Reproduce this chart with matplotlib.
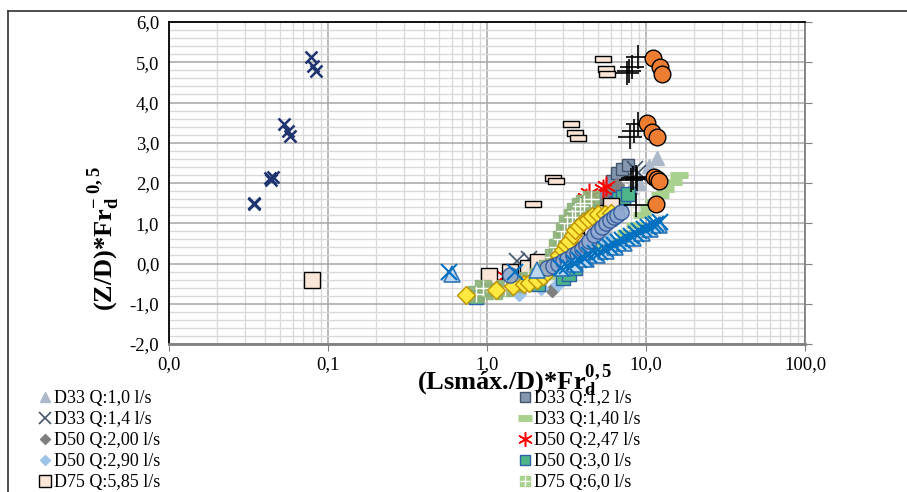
import matplotlib
matplotlib.use("Agg")
import matplotlib.pyplot as plt
from matplotlib.ticker import FuncFormatter, LogLocator, MultipleLocator
from matplotlib.lines import Line2D
from matplotlib.path import Path

plt.rcParams['font.family'] = ['Liberation Serif', 'DejaVu Serif']
plt.rcParams['mathtext.fontset'] = 'custom'
plt.rcParams['mathtext.rm'] = 'Liberation Serif'
plt.rcParams['mathtext.bf'] = 'Liberation Serif:bold'
plt.rcParams['mathtext.it'] = 'Liberation Serif:italic'

# ---------------- data ----------------
d33_q10_x = [1.45, 2.0, 2.9, 4.0, 5.5, 7.0, 8.0, 9.1, 10.4, 11.8]
d33_q10_y = [-0.25, -0.1, -0.05, 0.3, 0.9, 1.5, 1.9, 2.0, 2.43, 2.63]

d33_q12_x = [1.4, 2.2, 5.5, 6.1, 6.6, 7.1, 7.7]
d33_q12_y = [-0.3, -0.3, 1.7, 2.05, 2.25, 2.35, 2.45]

d33_q14_x = [1.55, 1.85, 8.5, 8.9]
d33_q14_y = [0.05, 0.1, 2.35, 2.25]

d33_q140_x = [2.5, 3.5, 4.5, 5.5, 6.5, 7.5, 8.5, 9.5, 10.4, 11.2, 12.3, 13.1, 14.7, 16.2]
d33_q140_y = [-0.3, 0.0, 0.2, 0.4, 0.55, 0.75, 0.95, 1.2, 1.37, 1.54, 1.71, 1.86, 2.03, 2.21]

d50_q200_x = [2.55, 3.2, 3.7, 4.2, 4.7, 5.2, 5.7, 6.2, 6.6]
d50_q200_y = [-0.67, -0.3, 0.2, 0.7, 1.1, 1.4, 1.6, 1.8, 1.95]

d50_q247_x = [1.3, 4.2, 4.4, 5.4, 5.6]
d50_q247_y = [-0.3, 1.62, 1.75, 1.85, 1.92]

d50_q290_x = [1.6, 2.2, 2.8, 3.3, 4.5, 5.5, 6.5, 7.5]
d50_q290_y = [-0.75, -0.6, -0.5, -0.3, 0.2, 0.6, 1.1, 1.6]

d50_q30_x = [0.85, 2.1, 3.0, 3.3, 3.6, 6.2, 6.5, 6.8, 7.2, 7.7]
d50_q30_y = [-0.82, -0.5, -0.35, -0.25, -0.1, 1.45, 1.5, 1.6, 1.65, 1.72]

d75_q585_x = [0.079, 1.03, 1.39, 1.81, 2.1, 4.0, 4.6, 5.3, 6.0]
d75_q585_y = [-0.42, -0.32, -0.22, -0.1, 0.03, 0.57, 0.9, 1.25, 1.44]

d75_q60_x = [0.85, 0.95, 1.1, 1.3, 1.55, 1.8, 2.1, 2.4, 2.6, 2.75, 2.9, 3.05,
             3.2, 3.4, 3.6, 3.85, 4.1, 4.5]
d75_q60_y = [-0.75, -0.62, -0.68, -0.6, -0.5, -0.42, -0.3, -0.1, 0.15, 0.4, 0.6, 0.8,
             1.0, 1.15, 1.3, 1.42, 1.5, 1.6]

# series whose legend entries are cut off in the picture
yellow_x = [0.74, 1.14, 1.45, 1.7, 1.85, 2.05, 2.25, 2.4, 2.55, 2.7, 2.85, 3.0, 3.15,
            3.3, 3.45, 3.6, 3.8, 4.0, 4.3, 4.6, 5.0, 5.5, 6.0]
yellow_y = [-0.79, -0.67, -0.57, -0.52, -0.48, -0.42, -0.3, -0.2, -0.05, 0.07, 0.2, 0.33,
            0.45, 0.57, 0.7, 0.82, 0.92, 1.02, 1.1, 1.19, 1.22, 1.22, 1.25]

bluecirc_x = [1.39, 2.4, 2.6, 2.8, 3.0, 3.2, 3.45, 3.7, 3.95, 4.2, 4.4, 4.7, 5.0, 5.3,
              5.6, 5.9, 6.3, 6.6, 7.0]
bluecirc_y = [-0.28, -0.1, -0.05, 0.0, 0.07, 0.12, 0.2, 0.27, 0.37, 0.47, 0.57, 0.7, 0.8,
              0.9, 1.0, 1.07, 1.15, 1.2, 1.27]

bluetri_x = [0.6, 2.05, 3.0, 3.6, 4.2, 4.9, 5.6, 6.4, 7.3, 8.3, 9.4, 10.6, 12.0]
bluetri_y = [-0.25, -0.17, -0.1, 0.0, 0.1, 0.2, 0.3, 0.42, 0.52, 0.64, 0.75, 0.85, 0.95]

bluex_x = [0.58, 1.5, 2.9, 3.2, 3.5, 3.8, 4.1, 4.4, 4.8, 5.1, 5.5, 5.9, 6.3, 6.7, 7.1,
           7.6, 8.1, 8.6, 9.1, 9.7, 10.3, 11.0, 11.6, 12.3]
bluex_y = [-0.22, -0.22, -0.12, -0.05, 0.02, 0.08, 0.14, 0.2, 0.25, 0.28, 0.35, 0.42,
           0.47, 0.53, 0.58, 0.63, 0.68, 0.74, 0.8, 0.86, 0.9, 0.95, 0.98, 1.02]

navyx_x = [0.034, 0.034, 0.043, 0.044, 0.045, 0.053, 0.056, 0.058, 0.078, 0.081, 0.084]
navyx_y = [1.48, 1.5, 2.12, 2.08, 2.15, 3.47, 3.3, 3.18, 5.12, 4.9, 4.78]

flat_x = [5.34, 5.6, 5.7, 3.36, 3.6, 3.75, 2.6, 2.7, 1.94]
flat_y = [5.09, 4.84, 4.71, 3.47, 3.25, 3.13, 2.13, 2.06, 1.49]

plus_x = [8.9, 8.2, 7.8, 7.6, 8.9, 8.4, 7.9, 8.0, 8.3, 8.6, 8.8, 8.7]
plus_y = [5.12, 4.87, 4.79, 4.74, 3.47, 3.28, 3.14, 2.07, 2.12, 2.15, 2.1, 1.45]

orange_x = [11.1, 12.2, 12.6, 10.1, 10.9, 11.8, 11.3, 11.7, 12.1, 11.5]
orange_y = [5.1, 4.87, 4.72, 3.48, 3.26, 3.15, 2.15, 2.1, 2.05, 1.48]

x_ticks = [0.01, 0.1, 1, 10, 100]
y_ticks = [-2, -1, 0, 1, 2, 3, 4, 5, 6]

# ---------------- figure ----------------
W, H = 907, 492
fig = plt.figure(figsize=(W / 100, H / 100), dpi=100)
ax = fig.add_axes([169 / W, 1 - 344 / H, (805 - 169) / W, (344 - 22) / H])

ax.set_xscale('log')
ax.set_xlim(0.01, 100)
ax.set_ylim(-2, 6)
ax.set_xticks(x_ticks)
ax.set_yticks(y_ticks)
ax.xaxis.set_minor_locator(LogLocator(base=10, subs=range(2, 10)))
ax.yaxis.set_minor_locator(MultipleLocator(0.2))
fmt = FuncFormatter(lambda v, p: f"{v:.1f}".replace('.', ','))
ax.xaxis.set_major_formatter(fmt)
ax.yaxis.set_major_formatter(fmt)
ax.xaxis.set_minor_formatter(FuncFormatter(lambda v, p: ''))

ax.grid(True, which='major', color='#a6a6a6', linewidth=1.1, zorder=0)
ax.grid(True, which='minor', color='#d9d9d9', linewidth=1.0, zorder=0)
ax.set_axisbelow(True)

ax.tick_params(axis='both', which='minor', length=0)
ax.tick_params(axis='y', which='major', left=False, right=True, direction='out',
               length=5, color='#808080', labelsize=13.5, pad=2)
ax.tick_params(axis='x', which='major', bottom=True, direction='out',
               length=5, color='#808080', labelsize=13.5, pad=4)

ax.spines['left'].set_color('black')
ax.spines['left'].set_linewidth(1.3)
ax.spines['top'].set_color('black')
ax.spines['top'].set_linewidth(1.3)
ax.spines['right'].set_color('#808080')
ax.spines['right'].set_linewidth(1.3)
ax.spines['bottom'].set_color('#808080')
ax.spines['bottom'].set_linewidth(2.0)

flat_marker = Path([(-2, -0.9), (2, -0.9), (2, 0.9), (-2, 0.9), (-2, -0.9)],
                   [Path.MOVETO, Path.LINETO, Path.LINETO, Path.LINETO, Path.CLOSEPOLY])

h = {}
h['a'] = ax.plot(d33_q10_x, d33_q10_y, ls='none', marker='^', ms=10, mfc='#adb9ca',
                 mec='#adb9ca', label='D33 Q:1,0 l/s')[0]
h['b'] = ax.plot(d33_q12_x, d33_q12_y, ls='none', marker='s', ms=9, mfc='#8497b0',
                 mec='#44546a', mew=1.0, label='D33 Q:1,2 l/s')[0]
h['c'] = ax.plot(d33_q14_x, d33_q14_y, ls='none', marker='x', ms=11, mec='#44546a',
                 mew=1.2, label='D33 Q:1,4 l/s')[0]
h['d'] = ax.plot(d33_q140_x, d33_q140_y, ls='none', marker='_', ms=13, mec='#a9d18e',
                 mew=5, label='D33 Q:1,40 l/s')[0]
h['e'] = ax.plot(d50_q200_x, d50_q200_y, ls='none', marker='D', ms=7, mfc='#7f7f7f',
                 mec='#7f7f7f', label='D50 Q:2,00 l/s')[0]
h['f'] = ax.plot(d50_q247_x, d50_q247_y, ls='none', marker=(6, 2, 0), ms=14,
                 mec='#ff0000', mew=1.1, label='D50 Q:2,47 l/s')[0]
h['g'] = ax.plot(d50_q290_x, d50_q290_y, ls='none', marker='D', ms=7, mfc='#9dc3e6',
                 mec='#9dc3e6', label='D50 Q:2,90 l/s')[0]
h['h'] = ax.plot(d50_q30_x, d50_q30_y, ls='none', marker='s', ms=10, mfc='#4eb588',
                 mec='#2e62a8', mew=1.0, label='D50 Q:3,0 l/s')[0]
h['i'] = ax.plot(d75_q585_x, d75_q585_y, ls='none', marker='s', ms=11, mfc='#fbe5d6',
                 mec='black', mew=1.0, label='D75 Q:5,85 l/s')[0]
ax.plot(d75_q60_x, d75_q60_y, ls='none', marker='s', ms=11, mfc='#8db27a',
        mec='#8db27a', alpha=0.9)
ax.plot(d75_q60_x, d75_q60_y, ls='none', marker='+', ms=11, mec='white', mew=1.0)

ax.plot(yellow_x, yellow_y, ls='none', marker='D', ms=9, mfc='#ffe840', mec='#bf9000', mew=1.0)
ax.plot(bluecirc_x, bluecirc_y, ls='none', marker='o', ms=11, mfc='#8fa9d1', mec='#2f5597',
        mew=1.0, alpha=0.9)
ax.plot(bluetri_x, bluetri_y, ls='none', marker='^', ms=11, mfc='#bdd7ee', mec='#2e75b6', mew=1.2)
ax.plot(bluex_x, bluex_y, ls='none', marker='x', ms=12, mec='#0070c0', mew=1.5)
ax.plot(navyx_x, navyx_y, ls='none', marker='x', ms=9, mec='#1f3470', mew=1.8)
ax.plot(flat_x, flat_y, ls='none', marker=flat_marker, ms=11, mfc='#fbe5d6', mec='black', mew=1.0)
ax.plot(plus_x, plus_y, ls='none', marker='+', ms=17, mec='black', mew=1.2)
ax.plot(orange_x, orange_y, ls='none', marker='o', ms=12, mfc='#ed7d31', mec='black', mew=1.0)

# legend handle for D75 Q:6,0 (square with white plus)
leg_j = (Line2D([], [], ls='none', marker='s', ms=9, mfc='#a9d18e', mec='#a9d18e'),
         Line2D([], [], ls='none', marker='+', ms=9, mec='white', mew=1.0))

handles = [h['a'], h['c'], h['e'], h['g'], h['i'],
           h['b'], h['d'], h['f'], h['h'], leg_j]
labels = ['D33 Q:1,0 l/s', 'D33 Q:1,4 l/s', 'D50 Q:2,00 l/s', 'D50 Q:2,90 l/s', 'D75 Q:5,85 l/s',
          'D33 Q:1,2 l/s', 'D33 Q:1,40 l/s', 'D50 Q:2,47 l/s', 'D50 Q:3,0 l/s', 'D75 Q:6,0 l/s']
leg = fig.legend(handles, labels, ncol=2, loc='upper left',
                 bbox_to_anchor=(40 / W, 1 - 390 / H), frameon=False,
                 fontsize=13, handlelength=0.6, handletextpad=0.15,
                 columnspacing=19.95, labelspacing=0.22, borderpad=0, borderaxespad=0,
                 markerscale=0.75)

# axis titles
fig.text(515 / W, 1 - 381 / H, r'(Lsmáx./D)*Fr$_{\mathbf{d}}^{\mathbf{0,5}}$',
         ha='center', va='center', fontsize=19, fontweight='bold')
fig.text(104 / W, 1 - 239 / H, r'(Z/D)*Fr$_{\mathbf{d}}^{\mathbf{-\ 0,5}}$',
         ha='center', va='center', fontsize=19, fontweight='bold', rotation=90)

# chart-area border (left and top)
fig.add_artist(Line2D([8 / W, 8 / W], [0, 1 - 11 / H], transform=fig.transFigure,
                      color='#404040', lw=1.3))
fig.add_artist(Line2D([8 / W, 1], [1 - 11 / H, 1 - 11 / H], transform=fig.transFigure,
                      color='#404040', lw=1.3))

fig.savefig('out.png', dpi=100)
